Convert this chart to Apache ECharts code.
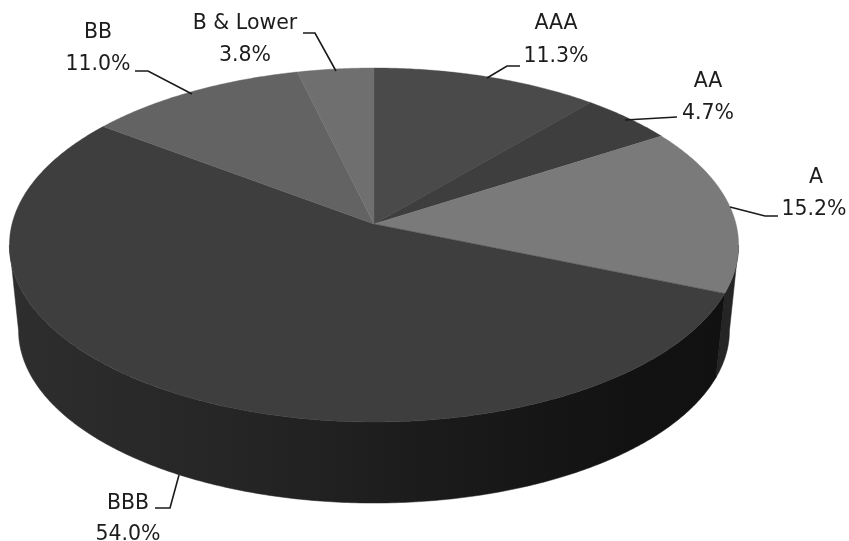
<!DOCTYPE html>
<html>
<head>
<meta charset="utf-8">
<style>html,body{margin:0;padding:0;background:#fff}#c{width:849px;height:541px}</style>
<script src="https://cdn.jsdelivr.net/npm/echarts@6/dist/echarts.min.js"></script>
</head>
<body>
<div id="c"></div>
<script>
// DATA
const categories = ['AAA', 'AA', 'A', 'BBB', 'BB', 'B & Lower'];
const shares = [11.3, 4.7, 15.2, 54.0, 11.0, 3.8];

// STYLE
const topColors = ['#4a4a4a', '#3e3e3e', '#7a7a7a', '#3e3e3e', '#636363', '#6f6f6f'];
const sideColors = ['#222', '#1c1c1c', '#252525', null, '#2a2a2a', '#2a2a2a'];
const labelFont = '20.5px "DejaVu Sans"';
// label anchor [nameX, nameY, pctX, pctY] and leader polyline for each slice
const labelLayout = [
  {t: [556, 24, 556, 57], l: [[487, 78], [507, 66], [520, 66]]},
  {t: [708, 82, 708, 114], l: [[625, 120], [677, 117]]},
  {t: [816, 178, 814, 210], l: [[730, 207], [765, 216], [778, 216]]},
  {t: [128, 504, 128, 535], l: [[179, 475], [170, 508], [155, 508]]},
  {t: [98, 33, 98, 65], l: [[192, 94], [148, 71], [135, 71]]},
  {t: [245, 24, 245, 56], l: [[336, 71], [315, 33], [303, 33]]}
];

// Projection of the tilted disc
const CX = 374, APEX_Y = 224, K = -0.1186;
function project(theta, scale, y0) {
  const u = Math.sin(theta), v = -Math.cos(theta), d = 1 + K * v;
  return [CX + 362 * scale * u / d, y0 + 174.5 * scale * v / d];
}
const topRim = t => project(t, 1, APEX_Y);
const lowRim = t => project(t, 0.975, 310);
const total = shares.reduce((a, b) => a + b, 0);
const starts = [];
shares.reduce((acc, s, i) => { starts[i] = acc; return acc + s; }, 0);
const ang = p => p / total * Math.PI * 2;
const FRONT_A = Math.acos(-0.1186), FRONT_B = Math.PI * 2 - FRONT_A;
function sweep(a, b) {
  const n = Math.max(2, Math.ceil((b - a) / 0.01));
  const out = [];
  for (let i = 0; i <= n; i++) out.push(a + (b - a) * i / n);
  return out;
}

const rows = categories.map((c, i) => [i, shares[i]]);

function renderSide(params) {
  const i = params.dataIndex;
  const a = Math.max(ang(starts[i]), FRONT_A);
  const b = Math.min(ang(starts[i] + shares[i]), FRONT_B);
  if (b <= a) return {type: 'group', children: []};
  const th = sweep(a, b);
  const pts = th.map(topRim).concat(th.slice().reverse().map(lowRim));
  const fill = sideColors[i] || new echarts.graphic.LinearGradient(8, 0, 740, 0, [
    {offset: 0, color: '#2e2e2e'},
    {offset: 0.35, color: '#242424'},
    {offset: 0.6, color: '#1a1a1a'},
    {offset: 0.85, color: '#121212'},
    {offset: 1, color: '#111111'}
  ], true);
  return {type: 'polygon', shape: {points: pts}, style: {fill: fill, stroke: fill, lineWidth: 0.5}};
}
function renderTop(params) {
  const i = params.dataIndex;
  const th = sweep(ang(starts[i]), ang(starts[i] + shares[i]));
  const pts = [[CX, APEX_Y]].concat(th.map(topRim));
  return {type: 'polygon', shape: {points: pts}, style: {fill: topColors[i], stroke: topColors[i], lineWidth: 0.4}};
}
function renderLabel(params) {
  const i = params.dataIndex, L = labelLayout[i];
  const txt = (s, x, y) => ({type: 'text', style: {text: s, x: x, y: y, font: labelFont, fill: '#1c1c1c', align: 'center', verticalAlign: 'middle'}});
  return {type: 'group', children: [
    {type: 'polyline', shape: {points: L.l}, style: {stroke: '#1a1a1a', lineWidth: 1.6, fill: 'none'}},
    txt(categories[i], L.t[0], L.t[1]),
    txt(shares[i].toFixed(1) + '%', L.t[2], L.t[3])
  ]};
}

const chart = echarts.init(document.getElementById('c'), null, {renderer: 'canvas'});
chart.setOption({
  animation: false,
  backgroundColor: '#ffffff',
  series: [
    {type: 'custom', coordinateSystem: 'none', z: 1, data: rows, renderItem: renderSide, silent: true},
    {type: 'custom', coordinateSystem: 'none', z: 2, data: rows, renderItem: renderTop, silent: true},
    {type: 'custom', coordinateSystem: 'none', z: 3, data: rows, renderItem: renderLabel, silent: true}
  ]
});
</script>
</body>
</html>
